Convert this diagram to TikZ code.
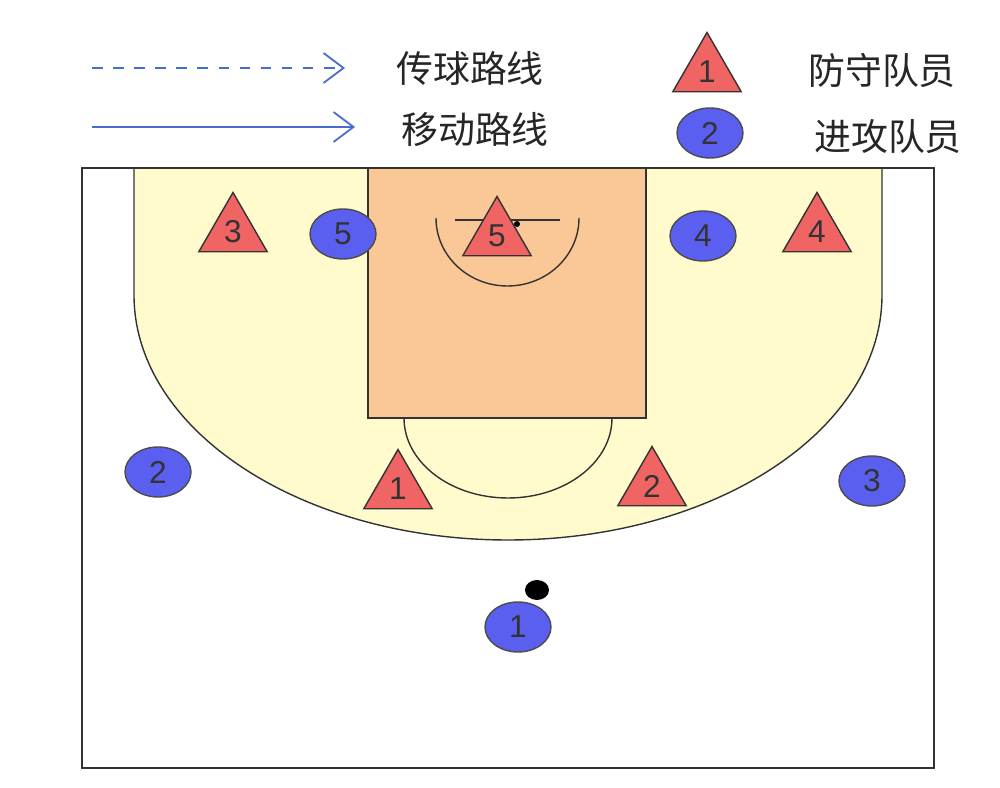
\documentclass[tikz,border=0pt]{standalone}
\usepackage{fontspec}
\setmainfont{Liberation Sans}
\newfontfamily\cjk{Noto Sans CJK SC}
\usetikzlibrary{shapes.geometric,arrows.meta}
\definecolor{courtyellow}{RGB}{255,251,205}
\definecolor{keyorange}{RGB}{250,200,150}
\definecolor{defred}{RGB}{240,100,100}
\definecolor{offblue}{RGB}{90,95,240}
\definecolor{lineblue}{RGB}{70,110,200}
\tikzset{
  defender/.style={regular polygon, regular polygon sides=3, draw=black!80, fill=defred,
    minimum size=7.9mm, inner sep=0pt, font=\fontsize{9}{9}\selectfont, text=black!80},
  attacker/.style={ellipse, draw=black!70, fill=offblue, minimum width=6.6mm,
    minimum height=5mm, inner sep=0pt, font=\fontsize{9}{9}\selectfont, text=black!80},
  legendtext/.style={font=\cjk\fontsize{10.5}{11}\selectfont, text=black!85},
  route/.style={lineblue, -{Straight Barb[length=2mm,width=3mm]}, line width=0.5pt}
}
\begin{document}
\begin{tikzpicture}[x=0.1mm,y=-0.1mm]
\useasboundingbox (0,0) rectangle (1000,788);
\fill[white] (0,0) rectangle (1000,788);

% court
\fill[courtyellow] (134,168) -- (134,295) arc[start angle=180, end angle=0, x radius=374, y radius=245] -- (882,168) -- cycle;
\draw[black!80] (134,168) -- (134,295) arc[start angle=180, end angle=0, x radius=374, y radius=245] -- (882,168);
\draw[fill=keyorange, draw=black!80] (368,168) rectangle (646,418);
\draw[black!80] (404,418) arc[start angle=180, end angle=0, x radius=104, y radius=80];
\draw[black!80] (436,218) arc[start angle=180, end angle=0, x radius=71.5, y radius=68];
\draw[black!80] (455,220) -- (560,220);
\draw[black!80, line width=0.8pt] (82,168) rectangle (934,768);

% legend
\coordinate (pa) at (92,68);
\coordinate (pb) at (345,68);
\coordinate (ma) at (92,127);
\coordinate (mb) at (355,127);
\draw[route, dashed] (pa) -- (pb);
\draw[route] (ma) -- (mb);
\node[legendtext] (passtext) at (470,68) {传球路线};
\node[legendtext] (movetext) at (475,130) {移动路线};
\node[defender] (legdef) at (707,72) {1};
\node[legendtext] (deftext) at (882,70) {防守队员};
\node[attacker] (legatt) at (710,133) {2};
\node[legendtext] (atttext) at (888,137) {进攻队员};

% defenders
\node[defender] (d3) at (233,232) {3};
\node[defender] (d5) at (497,236) {5};
\node[defender] (d4) at (817,232) {4};
\node[defender] (d1) at (398,489) {1};
\node[defender] (d2) at (652,486) {2};
\fill[black] (517,224) circle[radius=3];

% attackers
\node[attacker] (a5) at (343,234) {5};
\node[attacker] (a4) at (703,236) {4};
\node[attacker] (a2) at (158,472) {2};
\node[attacker] (a3) at (872,481) {3};
\node[attacker] (a1) at (518,627) {1};
\fill[black] (537,590) ellipse[x radius=12, y radius=10];
\end{tikzpicture}
\end{document}
